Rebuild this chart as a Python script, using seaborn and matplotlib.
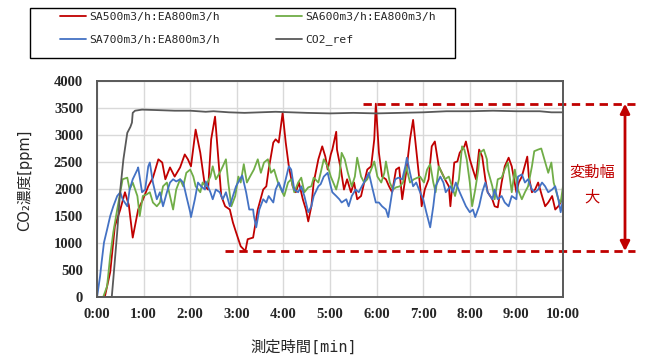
import numpy as np
import pandas as pd
import matplotlib
matplotlib.use("Agg")
import matplotlib.pyplot as plt
import seaborn as sns
from matplotlib.patches import Rectangle

# time stamps [s] and CO2 concentration [ppm] per condition
sa500_t = [0, 4, 10, 17, 23, 30, 36, 41, 46, 53, 59, 66, 72, 79, 84, 88, 94, 100, 107, 113, 117, 121,
           127, 133, 139, 143, 147, 152, 156, 160, 165, 171, 175, 179, 185, 191, 194, 201, 207, 214,
           218, 221, 227, 230, 234, 239, 243, 247, 252, 256, 260, 265, 269, 272, 276, 279, 285, 290,
           294, 297, 301, 303, 308, 309, 314, 318, 322, 327, 331, 335, 340, 344, 348, 353, 357, 359,
           363, 367, 372, 376, 380, 385, 389, 393, 398, 403, 407, 411, 416, 418, 422, 427, 431, 435,
           440, 444, 448, 453, 455, 460, 464, 467, 473, 475, 480, 484, 488, 492, 496, 500, 503, 509,
           512, 516, 521, 525, 530, 534, 540, 543, 547, 554, 556, 560, 564, 568, 573, 577, 581, 586,
           590, 594, 599, 600]
sa500_v = [0, 0, 0, 460, 1310, 1620, 1940, 1700, 1100, 1620, 1800, 2050, 2210, 2550, 2490, 2180, 2400,
           2230, 2400, 2640, 2550, 2420, 3100, 2670, 2050, 1990, 2920, 3340, 2600, 1870, 1680, 1620,
           1380, 1200, 940, 850, 1070, 1100, 1620, 1990, 2050, 2360, 2860, 2920, 2860, 3410, 2860,
           2420, 2050, 1940, 2120, 1810, 1620, 1400, 1680, 2120, 2550, 2790, 2600, 2360, 2640, 2730,
           3060, 2730, 2360, 1990, 2180, 1940, 2120, 1810, 1870, 2120, 2360, 2420, 2920, 3580, 2670,
           2230, 2180, 2050, 1940, 2360, 2400, 1810, 2300, 2920, 3280, 2730, 2050, 1680, 1990, 2180,
           2790, 2880, 2420, 2300, 2180, 2050, 1680, 2490, 2510, 2670, 2790, 2880, 2550, 2360, 2180,
           2730, 2600, 2180, 1940, 1810, 1680, 1660, 2120, 2420, 2580, 2420, 1940, 2120, 2230, 2600,
           2230, 1940, 1990, 2120, 1870, 1680, 1750, 1870, 1620, 1680, 1810, 1750]

sa600_t = [0, 8, 13, 17, 21, 26, 30, 33, 39, 42, 46, 52, 55, 59, 64, 68, 72, 77, 81, 85, 90, 94, 98,
           102, 107, 111, 115, 120, 124, 127, 133, 136, 140, 146, 149, 153, 158, 162, 166, 169, 173,
           178, 182, 185, 189, 193, 197, 202, 207, 211, 215, 220, 224, 228, 233, 237, 241, 246, 250,
           254, 259, 263, 267, 272, 276, 279, 285, 288, 292, 297, 301, 308, 312, 315, 319, 323, 328,
           332, 335, 340, 344, 348, 353, 357, 361, 366, 370, 372, 377, 381, 385, 390, 394, 398, 403,
           408, 416, 421, 425, 429, 433, 436, 440, 444, 448, 453, 457, 461, 466, 470, 473, 476, 480,
           483, 487, 491, 493, 498, 502, 503, 509, 512, 516, 521, 525, 529, 534, 538, 542, 547, 551,
           555, 560, 563, 568, 572, 576, 581, 585, 588, 594, 597, 600]
sa600_v = [0, 0, 200, 760, 1200, 1620, 1940, 2180, 2210, 1990, 2120, 1870, 1500, 1870, 1900, 1940,
           1750, 1680, 1750, 2050, 2120, 1870, 1620, 1990, 2180, 2050, 2300, 2360, 2230, 2050, 1940,
           2120, 2050, 2230, 2420, 2180, 2300, 2420, 2550, 2120, 1680, 1870, 2230, 2120, 2460, 2120,
           2230, 2360, 2550, 2300, 2490, 2550, 2300, 2360, 2120, 1990, 1870, 2120, 2180, 1940, 2120,
           2210, 1940, 2030, 2050, 2210, 2120, 2300, 2550, 2420, 2230, 1990, 2230, 2670, 2550, 2300,
           2050, 2230, 2580, 2230, 2120, 2180, 2360, 2510, 2230, 2120, 2300, 2510, 2120, 1990, 2030,
           2050, 2120, 2420, 2120, 2180, 2230, 2120, 2360, 2460, 2120, 1940, 2420, 2300, 2180, 2230,
           2050, 1870, 2180, 2790, 2730, 2550, 2120, 1680, 1990, 2360, 2670, 2730, 2550, 2360, 2050,
           1810, 2180, 2210, 2360, 2490, 1940, 2360, 1990, 1810, 1940, 2050, 2420, 2700, 2730, 2750,
           2550, 2300, 2490, 2120, 1810, 1750, 2050]

sa700_t = [0, 1, 4, 6, 9, 13, 17, 21, 26, 30, 33, 39, 42, 46, 52, 53, 58, 62, 66, 68, 72, 77, 81, 85,
           90, 94, 98, 102, 107, 111, 115, 120, 121, 126, 130, 134, 139, 140, 146, 149, 153, 158, 162,
           166, 171, 175, 179, 184, 187, 192, 196, 201, 202, 205, 209, 214, 218, 221, 227, 230, 234,
           239, 243, 247, 250, 254, 259, 263, 267, 272, 276, 279, 285, 288, 292, 297, 301, 303, 308,
           312, 315, 321, 324, 328, 333, 337, 341, 346, 350, 354, 359, 363, 367, 372, 375, 380, 384,
           388, 393, 397, 399, 403, 407, 411, 416, 420, 424, 429, 433, 436, 442, 446, 449, 455, 458,
           462, 467, 471, 475, 480, 484, 487, 492, 496, 500, 503, 509, 512, 516, 521, 525, 530, 534,
           540, 542, 547, 551, 555, 560, 564, 568, 573, 577, 581, 586, 590, 594, 597, 600]
sa700_v = [0, 90, 390, 650, 1010, 1250, 1500, 1680, 1870, 1940, 1810, 1680, 1990, 2180, 2360, 2400,
           1940, 1990, 2420, 2490, 2120, 1810, 1940, 1680, 1940, 2120, 2180, 2140, 2180, 2120, 1870,
           1570, 1480, 1810, 2120, 2050, 1990, 2140, 1940, 1810, 1990, 1940, 1810, 1940, 1680, 1870,
           2050, 2180, 2250, 1940, 1620, 1620, 1500, 1290, 1620, 1810, 1750, 1870, 1750, 1990, 2120,
           1940, 2180, 2420, 2360, 1990, 1940, 2050, 1870, 1570, 1680, 1870, 2050, 2090, 2230, 2300,
           2050, 1940, 1870, 1810, 1750, 1810, 1680, 1870, 1990, 1940, 2050, 2180, 2300, 2050, 1750,
           1750, 1680, 1620, 1480, 1940, 2180, 2210, 2180, 2420, 2580, 2300, 2050, 2120, 1940, 1810,
           1570, 1290, 1680, 2050, 2230, 2120, 1940, 2050, 1940, 2120, 1940, 1810, 1680, 1570, 1620,
           1480, 1680, 1940, 2120, 1940, 1810, 1990, 1810, 1870, 1750, 1680, 1870, 1810, 2230, 2270,
           2120, 2180, 1990, 1940, 1990, 2120, 2050, 1940, 1990, 2050, 1810, 1570, 1810]

ref_t = [0, 15, 19, 21, 26, 30, 34, 39, 43, 45, 46, 49, 58, 80, 100, 120, 140, 150, 170, 190, 210,
         230, 250, 270, 300, 330, 360, 390, 420, 450, 480, 510, 540, 570, 585, 600]
ref_v = [0, 0, 0, 330, 1200, 1990, 2550, 3040, 3150, 3230, 3410, 3450, 3470, 3460, 3450, 3450, 3430,
         3440, 3420, 3410, 3420, 3430, 3420, 3410, 3400, 3410, 3400, 3410, 3420, 3440, 3440, 3450,
         3440, 3440, 3420, 3420]

series_names = ["SA500m3/h:EA800m3/h", "SA600m3/h:EA800m3/h", "SA700m3/h:EA800m3/h", "CO2_ref"]
series_colors = ["#C00000", "#70AD47", "#4472C4", "#595959"]
x_ticks_min = list(range(0, 11))
x_tick_labels = [f"{m}:00" for m in x_ticks_min]
y_ticks = list(range(0, 4001, 500))

frames = []
for name, t, v in zip(series_names, [sa500_t, sa600_t, sa700_t, ref_t],
                      [sa500_v, sa600_v, sa700_v, ref_v]):
    frames.append(pd.DataFrame({"min": np.asarray(t) / 60.0, "ppm": v, "series": name}))
df = pd.concat(frames, ignore_index=True)

sns.set_theme(style="white")
plt.rcParams["font.family"] = ["DejaVu Sans Mono", "Noto Sans CJK JP"]
plt.rcParams["axes.unicode_minus"] = False

W, H = 645, 360
fig = plt.figure(figsize=(W / 100, H / 100), dpi=100)
ax = fig.add_axes([97 / W, 1 - 297 / H, 466 / W, 216 / H])

handles = {}
for name, color in zip(series_names, series_colors):
    sub = df[df["series"] == name]
    sns.lineplot(data=sub, x="min", y="ppm", ax=ax, color=color, linewidth=1.3,
                 estimator=None, sort=False, legend=False)
    handles[name] = ax.lines[-1]

ax.set_xlim(0, 10)
ax.set_ylim(0, 4000)
ax.set_xticks(x_ticks_min)
ax.set_xticklabels(x_tick_labels)
ax.set_yticks(y_ticks)
ax.set_yticklabels([str(v) for v in y_ticks])
ax.set_xlabel("")
ax.set_ylabel("")
ax.grid(True, color="#D9D9D9", linewidth=1.0)
ax.set_axisbelow(True)
ax.tick_params(length=0, labelsize=10.5)
ax.tick_params(axis="y", pad=10)
ax.tick_params(axis="x", pad=8)
for lab in ax.get_xticklabels() + ax.get_yticklabels():
    lab.set_fontfamily("Liberation Serif")
    lab.set_fontweight("bold")
for sp in ax.spines.values():
    sp.set_color("#595959")
    sp.set_linewidth(1.4)

# range of fluctuation of the SA500 condition once the supply is running
red = "#C00000"
steady = [v for t, v in zip(sa500_t, sa500_v) if t >= 60]
y_hi = max(steady)
y_lo = min(steady)
x_end = (635 - 97) / 46.6
ax.plot([5.71, x_end], [y_hi, y_hi], color=red, lw=2, ls=(0, (3, 2)), clip_on=False)
ax.plot([2.75, x_end], [y_lo, y_lo], color=red, lw=2, ls=(0, (3, 2)), clip_on=False)
x_arr = (625 - 97) / 46.6
ax.annotate("", xy=(x_arr, y_hi), xytext=(x_arr, y_lo), annotation_clip=False,
            arrowprops=dict(arrowstyle="<|-|>", color=red, lw=2, mutation_scale=14,
                            shrinkA=0, shrinkB=0))
fig.text(592 / W, 1 - 172 / H, "変動幅", color=red, fontsize=11, ha="center", va="center",
         family=["Noto Sans CJK JP"])
fig.text(592 / W, 1 - 197 / H, "大", color=red, fontsize=11, ha="center", va="center",
         family=["Noto Sans CJK JP"])

# axis titles
fig.text(304 / W, 1 - 347 / H, "測定時間[min]", fontsize=11, ha="center", va="center")
fig.text(25 / W, 1 - 180 / H, "CO₂濃度[ppm]", fontsize=10.5, ha="center", va="center",
         rotation=90, family=["DejaVu Sans", "Noto Sans CJK JP"])

# legend above the plot
order = [series_names[0], series_names[2], series_names[1], series_names[3]]
fig.legend([handles[n] for n in order], order, loc="upper left",
           bbox_to_anchor=(60 / W, 1 - 12 / H), ncol=2, frameon=False, fontsize=8.2,
           handlelength=2.3, handletextpad=0.3, columnspacing=4.9, labelspacing=1.1,
           borderpad=0, borderaxespad=0)
fig.patches.append(Rectangle((30 / W, 1 - 58 / H), 425 / W, 50 / H, transform=fig.transFigure,
                             fill=False, edgecolor="black", linewidth=1.0))

fig.savefig("out.png", dpi=100)
